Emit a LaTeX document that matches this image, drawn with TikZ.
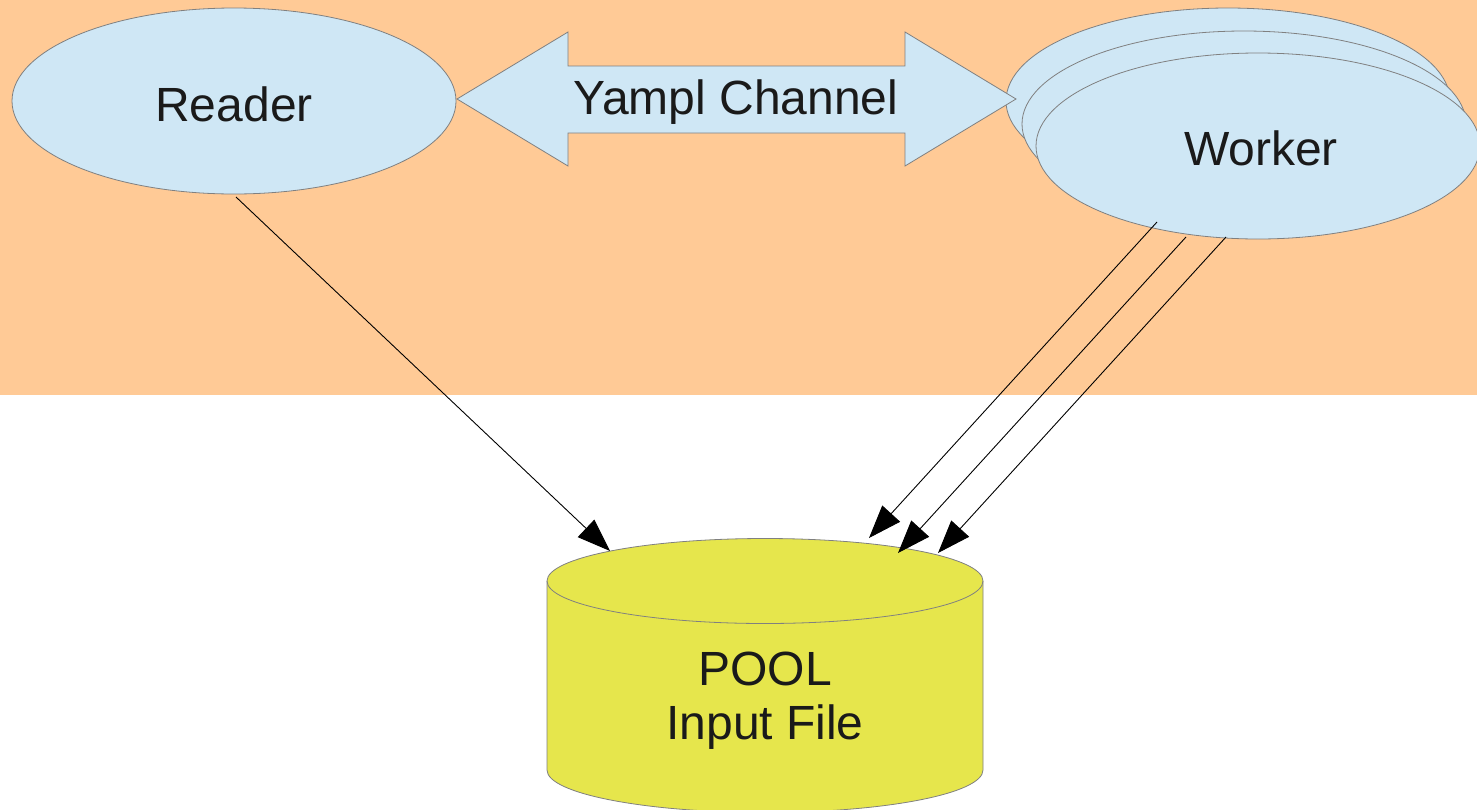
\documentclass[tikz,border=0pt]{standalone}
\usepackage{fontspec}
\setmainfont{Liberation Sans}
\usetikzlibrary{shapes.geometric,arrows.meta}
\definecolor{bgorange}{HTML}{FFCA96}
\definecolor{paleblue}{HTML}{CFE7F5}
\definecolor{poolyellow}{HTML}{E6E64C}
\definecolor{edgegray}{HTML}{808080}
\definecolor{ink}{HTML}{1A1A1A}
\tikzset{
  blob/.style={ellipse, draw=edgegray, fill=paleblue, line width=0.8pt,
    minimum width=444pt, minimum height=186pt, inner sep=0pt},
  label text/.style={text=ink, font=\fontsize{48}{54}\selectfont, align=center},
  flow/.style={draw=black, line width=0.9pt, -{Triangle[length=33pt,width=24pt]}},
}
\begin{document}
\begin{tikzpicture}[x=1pt,y=-1pt]
  % canvas and upper shaded band
  \useasboundingbox (0,0) rectangle (1477,809);
  \fill[white] (0,0) rectangle (1477,809);
  \fill[bgorange] (0,0) rectangle (1477,395);

  % reader process
  \node[blob] (reader) at (234,101) {};
  \node[label text] (readerlabel) at (234,104) {Reader};

  % stacked worker processes
  \node[blob] (worker3) at (1228,101) {};
  \node[blob] (worker2) at (1244,124) {};
  \node[blob] (worker) at (1258,146) {};
  \node[label text] (workerlabel) at (1261,148) {Worker};

  % two-headed channel arrow
  \path[draw=edgegray, fill=paleblue, line width=0.8pt]
    (457,99) -- (568,32) -- (568,66) -- (905,66) -- (905,32) -- (1016,99)
    -- (905,166) -- (905,133) -- (568,133) -- (568,166) -- cycle;
  \node[label text] (channel) at (736,102) {Yampl Channel};

  % input file cylinder (y axis points down, so arcs run the other way)
  \path[draw=edgegray, fill=poolyellow, line width=0.8pt]
    (547,581) -- (547,770) arc[start angle=180, end angle=0, x radius=218, y radius=42.5]
    -- (983,581) arc[start angle=0, end angle=-180, x radius=218, y radius=42.5] -- cycle;
  \draw[edgegray, line width=0.8pt]
    (547,581) arc[start angle=180, end angle=0, x radius=218, y radius=42.5];
  \node[label text] (pool) at (765,701) {POOL\\Input File};

  % access points on the cylinder lid and worker rims
  \coordinate (rin) at (610,551);
  \coordinate (win1) at (869,538);
  \coordinate (win2) at (898,553);
  \coordinate (win3) at (938,553);
  \coordinate (rout) at (236,197);
  \coordinate (wout1) at (1157,222);
  \coordinate (wout2) at (1186,237);
  \coordinate (wout3) at (1226,237);

  % file accesses
  \draw[flow] (rout) -- (rin);
  \draw[flow] (wout1) -- (win1);
  \draw[flow] (wout2) -- (win2);
  \draw[flow] (wout3) -- (win3);
\end{tikzpicture}
\end{document}
